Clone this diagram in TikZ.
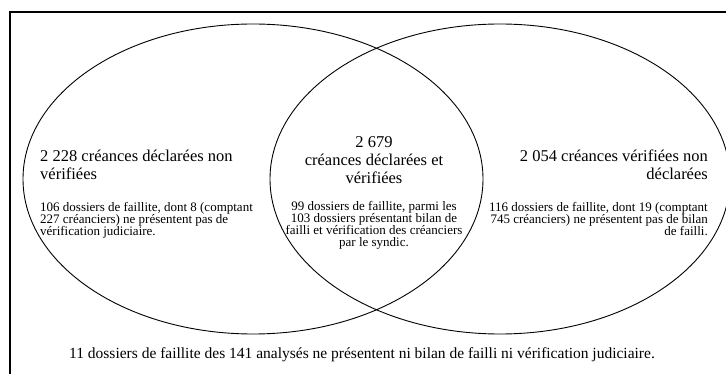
\documentclass[tikz,border=0pt]{standalone}
\usepackage{fontspec}
\setmainfont{Liberation Serif}
\usetikzlibrary{positioning}

\begin{document}
\begin{tikzpicture}[x=1pt, y=-1pt,
    settitle/.style={inner sep=0pt, font=\fontsize{16.5}{18}\selectfont},
    setnote/.style={inner sep=0pt, font=\fontsize{13}{12.2}\selectfont},
    setfoot/.style={inner sep=0pt, font=\fontsize{15.5}{17}\selectfont},
    setline/.style={line width=0.9pt}
]
\useasboundingbox (0,0) rectangle (726,374);
\clip (0,0) rectangle (726,374);
\draw[line width=1.6pt] (740,12) -- (10,12) -- (10,390);

% the two sets
\draw[setline] (253,179) ellipse [x radius=230, y radius=155];
\draw[setline] (500,179) ellipse [x radius=230, y radius=155];

% left set (base = last line)
\node[settitle, anchor=base west, align=left] (lefttitle) at (40,180) {2 228 créances déclarées non\\vérifiées};
\node[setnote, anchor=base west, align=left] (leftnote) at (40,236) {106 dossiers de faillite, dont 8 (comptant\\227 créanciers) ne présentent pas de\\vérification judiciaire.};

% overlap
\node[settitle, anchor=base, align=center] (midtitle) at (374,184) {2 679\\créances déclarées et\\vérifiées};
\node[setnote, anchor=base, align=center] (midnote) at (374,247) {99 dossiers de faillite, parmi les\\103 dossiers présentant bilan de\\failli et vérification des créanciers\\par le syndic.};

% right set
\node[settitle, anchor=base east, align=right] (righttitle) at (708,180) {2 054 créances vérifiées non\\déclarées};
\node[setnote, anchor=base east, align=right] (rightnote) at (708,236) {116 dossiers de faillite, dont 19 (comptant\\745 créanciers) ne présentent pas de bilan\\de failli.};

\node[setfoot, anchor=base] (foot) at (362,358) {11 dossiers de faillite des 141 analysés ne présentent ni bilan de failli ni vérification judiciaire.};
\end{tikzpicture}
\end{document}
